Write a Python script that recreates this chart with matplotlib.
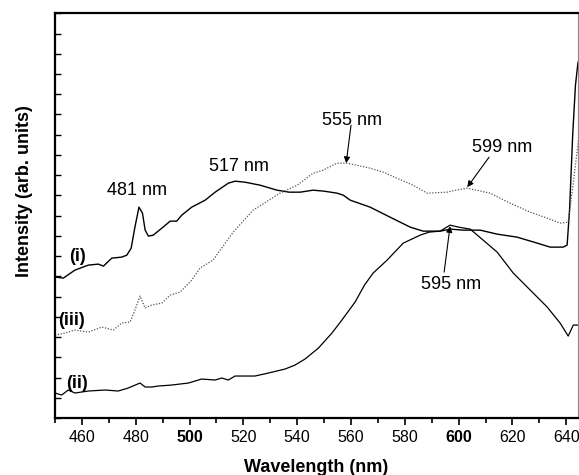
import numpy as np
import matplotlib
matplotlib.use("Agg")
import matplotlib.pyplot as plt
from matplotlib.ticker import MultipleLocator


# -------------------------
# Data (arb. units)
# -------------------------
wl_i = [450, 453.1, 457.4, 462.4, 466.1, 468, 471.1, 474.8, 476.7, 478.3,
        479.7, 481.2, 482.5, 483.5, 484.7, 486.5, 489.7, 492.8, 495.2, 497.1,
        500.8, 505.8, 509.5, 514.4, 516.9, 520.6, 526.2, 532.5, 537, 541.1,
        545.9, 550, 554.8, 557.1, 559.7, 567.1, 574.5, 582, 586.8, 593.1, 597,
        601.7, 608, 614.3, 621.7, 629.2, 634, 638.8, 640.3, 641.2, 642.4,
        643.4, 644.3, 644.6]
int_i = [141, 140, 148, 153, 154, 152, 160, 161, 163, 170,
         191, 211, 205, 188, 182, 183, 190, 197, 197, 203,
         211, 218, 226, 235, 237, 236, 233, 228, 226, 226,
         228, 227, 225, 223, 218, 211, 201, 191, 187, 187, 189,
         188, 188, 184, 181, 175, 171, 171, 173, 208, 285,
         333, 355, 358]

wl_ii = [450, 452.5, 454.9, 457.4, 462.4, 468.6, 473.5, 477.2, 481.6, 483.5,
         485.9, 488.4, 493.4, 499.6, 504.5, 509.5, 512, 514.4, 516.9, 524.3,
         529.3, 535.5, 539.2, 542.9, 547.9, 552.9, 556.6, 561.5, 565, 568.2,
         573.4, 579.4, 585.7, 589, 593.1, 596.8, 600, 604.3, 609.1, 614.3,
         620.3, 626.6, 632.9, 637.7, 640.7, 642.6, 644.5]
int_ii = [25, 23, 28, 25, 27, 28, 27, 30, 35, 31,
          31, 32, 33, 35, 39, 38, 40, 38, 42, 42,
          45, 49, 53, 59, 70, 85, 98, 116, 133, 145,
          158, 175, 183, 186, 187, 193, 191, 189, 178, 166,
          145, 128, 111, 95, 82, 93, 93]

wl_iii = [450, 453.7, 457.4, 462.4, 467.4, 471.7, 474.8, 477.9, 479.7, 481.6,
          483.5, 485.9, 489.7, 492.8, 496.5, 500.8, 503.9, 508.7, 516.2, 523.6,
          533.6, 540, 545.9, 549.6, 554.8, 558.5, 562, 567.1, 572, 577.1, 583,
          588.3, 595.7, 599, 603.2, 611.7, 619.1, 626.6, 632.9, 637.7, 640.7,
          642.5, 644.5]
int_iii = [83, 85, 88, 86, 91, 88, 95, 96, 108, 122,
           110, 113, 115, 123, 126, 138, 150, 158, 186, 208,
           225, 233, 245, 248, 255, 255, 253, 250, 246, 240, 233,
           225, 226, 228, 230, 225, 215, 206, 200, 195, 196,
           233, 278]

x_ticks = [460, 480, 500, 520, 540, 560, 580, 600, 620, 640]
bold_ticks = [500, 600]


def main():
    plt.rcParams["font.family"] = ["Liberation Sans", "DejaVu Sans"]

    fig = plt.figure(figsize=(5.79, 4.75), dpi=100)
    ax = fig.add_axes([0.095, 0.12, 0.904, 0.852])

    ax.plot(wl_i, int_i, color="black", lw=1.0)
    ax.plot(wl_ii, int_ii, color="black", lw=0.9)
    ax.plot(wl_iii, int_iii, color="#555555", lw=0.9, linestyle=(0, (1, 1.3)))

    ax.set_xlim(450, 644.5)
    ax.set_ylim(0, 405)

    # axes styling
    for side in ["left", "top", "bottom"]:
        ax.spines[side].set_linewidth(1.6)
    ax.spines["right"].set_linewidth(0.8)
    ax.spines["right"].set_color("#888888")

    ax.set_xticks(x_ticks)
    ax.xaxis.set_minor_locator(MultipleLocator(10))
    ax.tick_params(axis="x", which="major", direction="out", length=5, width=1.2,
                   labelsize=11.5, pad=3.5, top=False)
    ax.tick_params(axis="x", which="minor", direction="out", length=3.5, width=1.2,
                   top=False)
    for lab in ax.get_xticklabels():
        if int(float(lab.get_text())) in bold_ticks:
            lab.set_fontweight("bold")

    ax.set_yticks(np.linspace(0, 405, 21))
    ax.tick_params(axis="y", direction="in", length=4, width=1.0,
                   labelleft=False, right=False)

    # peak annotations
    ax.text(480.5, 228, "481 nm", ha="center", va="center", fontsize=13)
    ax.text(518.4, 252, "517 nm", ha="center", va="center", fontsize=13)
    ax.text(560.4, 298, "555 nm", ha="center", va="center", fontsize=13)
    ax.text(616.2, 271, "599 nm", ha="center", va="center", fontsize=13)
    ax.text(597.2, 134, "595 nm", ha="center", va="center", fontsize=13)

    arrow = dict(arrowstyle="-|>", color="black", lw=0.8, mutation_scale=9,
                 shrinkA=0, shrinkB=0)
    ax.annotate("", xy=(558.2, 255), xytext=(560.0, 293), arrowprops=arrow)
    ax.annotate("", xy=(603.2, 231), xytext=(611.3, 261), arrowprops=arrow)
    ax.annotate("", xy=(596.8, 192), xytext=(594.6, 146), arrowprops=arrow)

    # curve labels
    ax.text(458.2, 162, "(i)", ha="center", va="center", fontsize=13,
            fontweight="bold")
    ax.text(456.3, 98, "(iii)", ha="center", va="center", fontsize=13,
            fontweight="bold")
    ax.text(458.2, 35, "(ii)", ha="center", va="center", fontsize=13,
            fontweight="bold")

    fig.text(316 / 579, 1 - 467 / 475, "Wavelength (nm)", ha="center",
             va="center", fontsize=13, fontweight="bold")
    fig.text(25 / 579, 1 - 191 / 475, "Intensity (arb. units)", ha="center",
             va="center", rotation=90, fontsize=13, fontweight="bold")

    fig.savefig("out.png", dpi=100)
    plt.close(fig)


if __name__ == "__main__":
    main()
